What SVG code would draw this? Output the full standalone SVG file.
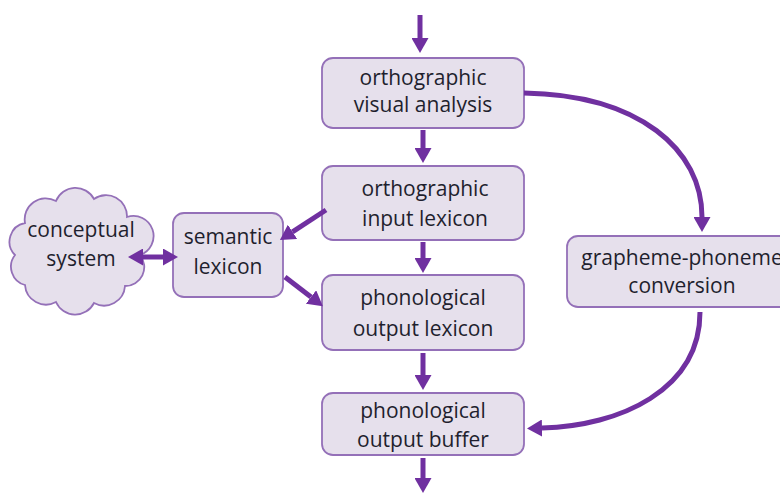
<svg xmlns="http://www.w3.org/2000/svg" width="780" height="493" viewBox="0 0 780 493">
<style>
.box{fill:#E6E0EC;stroke:#9470B8;stroke-width:1.8}
.t{font-family:"Open Sans","Liberation Sans",Arial,sans-serif;font-size:21px;fill:#1f1f2e;text-anchor:middle}
.c{fill:none;stroke:#7030A0;stroke-width:5}
</style>
<defs>
<marker id="ah" viewBox="0 0 15 17" refX="0" refY="8.5" markerWidth="15" markerHeight="17" markerUnits="userSpaceOnUse" orient="auto-start-reverse">
<path d="M0,0 L15,8.5 L0,17 z" fill="#7030A0"/>
</marker>
</defs>
<rect width="780" height="493" fill="#fff"/>
<g id="ova">
<rect class="box" x="322" y="58" width="202" height="70" rx="11"/>
<text class="t" x="423" y="85">orthographic</text>
<text class="t" x="423" y="112">visual analysis</text>
</g>
<g id="oil">
<rect class="box" x="322" y="166" width="202" height="74" rx="11"/>
<text class="t" x="425" y="196">orthographic</text>
<text class="t" x="425" y="226">input lexicon</text>
</g>
<g id="pol">
<rect class="box" x="322" y="275" width="202" height="75" rx="11"/>
<text class="t" x="423" y="305">phonological</text>
<text class="t" x="423" y="336">output lexicon</text>
</g>
<g id="pob">
<rect class="box" x="322" y="393" width="202" height="62" rx="11"/>
<text class="t" x="423" y="418">phonological</text>
<text class="t" x="423" y="447">output buffer</text>
</g>
<g id="sem">
<rect class="box" x="173" y="213" width="110" height="84" rx="11"/>
<text class="t" x="228" y="244">semantic</text>
<text class="t" x="228" y="274">lexicon</text>
</g>
<g id="gpc">
<rect class="box" x="567" y="236" width="230" height="71" rx="11"/>
<text class="t" x="682" y="265">grapheme-phoneme</text>
<text class="t" x="682" y="293">conversion</text>
</g>
<g id="cs">
<path class="box" d="M140,255 A19,19 0 0 1 125,286 A21,21 0 0 1 94,303 A21,21 0 0 1 56,302 A21,21 0 0 1 25,285 A19,19 0 0 1 15,255 A19,19 0 0 1 25,223 A21,21 0 0 1 56,201 A21,21 0 0 1 94,199 A21,21 0 0 1 127,217 A19,19 0 0 1 140,255 Z"/>
<text class="t" x="81" y="237">conceptual</text>
<text class="t" x="81" y="266">system</text>
</g>
<g id="connectors">
<path class="c" d="M420,15 L420,38" marker-end="url(#ah)"/>
<path class="c" d="M423,130 L423,148" marker-end="url(#ah)"/>
<path class="c" d="M423,242 L423,258" marker-end="url(#ah)"/>
<path class="c" d="M423,353 L423,375" marker-end="url(#ah)"/>
<path class="c" d="M423,458 L423,478" marker-end="url(#ah)"/>
<path class="c" d="M326,210 L292.5,231.8" marker-end="url(#ah)"/>
<path class="c" d="M285,277 L311,297" marker-end="url(#ah)"/>
<path class="c" d="M143,257 L163,257" marker-start="url(#ah)" marker-end="url(#ah)"/>
<path class="c" d="M524,93 C640,95 702,150 702,217" marker-end="url(#ah)"/>
<path class="c" d="M700,312 C700,390 620,426 542,428" marker-end="url(#ah)"/>
</g>
</svg>
